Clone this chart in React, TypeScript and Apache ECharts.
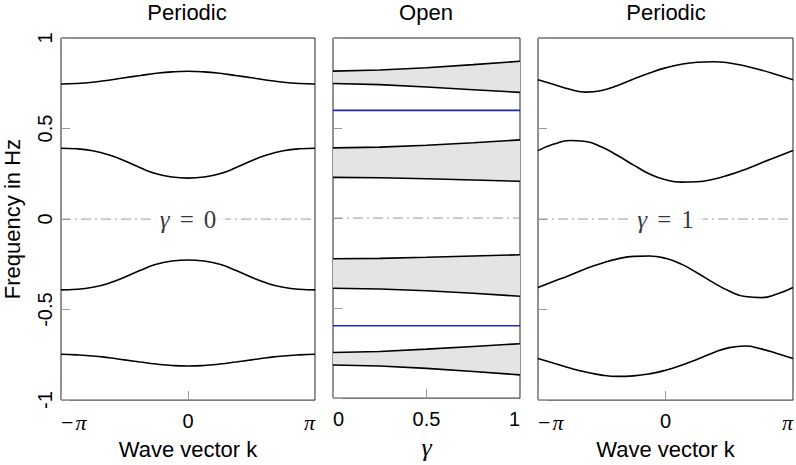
import React, { useEffect, useRef } from "react";
import * as echarts from "echarts";

// wave vector samples, in units of pi
const K = [-1, -0.875, -0.75, -0.625, -0.5, -0.375, -0.25, -0.125, 0, 0.125, 0.25, 0.375, 0.5, 0.625, 0.75, 0.875, 1];

// Periodic, gamma = 0
const p0Band1 = [0.746, 0.749, 0.756, 0.767, 0.78, 0.793, 0.805, 0.813, 0.816, 0.813, 0.805, 0.793, 0.78, 0.767, 0.756, 0.749, 0.746];
const p0Band2 = [0.391, 0.388, 0.377, 0.355, 0.322, 0.283, 0.25, 0.232, 0.226, 0.232, 0.25, 0.283, 0.322, 0.355, 0.377, 0.388, 0.391];
const p0Band3 = [-0.391, -0.388, -0.377, -0.355, -0.322, -0.283, -0.25, -0.232, -0.226, -0.232, -0.25, -0.283, -0.322, -0.355, -0.377, -0.388, -0.391];
const p0Band4 = [-0.747, -0.75, -0.756, -0.766, -0.778, -0.79, -0.801, -0.809, -0.812, -0.809, -0.801, -0.79, -0.778, -0.766, -0.756, -0.75, -0.747];

// Periodic, gamma = 1
const p1Band1 = [0.77, 0.743, 0.717, 0.701, 0.71, 0.738, 0.774, 0.807, 0.835, 0.855, 0.866, 0.869, 0.862, 0.845, 0.823, 0.797, 0.77];
const p1Band2 = [0.378, 0.414, 0.434, 0.428, 0.398, 0.351, 0.298, 0.249, 0.217, 0.204, 0.206, 0.22, 0.244, 0.274, 0.31, 0.344, 0.378];
const p1Band3 = [-0.378, -0.344, -0.31, -0.274, -0.244, -0.22, -0.206, -0.204, -0.217, -0.249, -0.298, -0.351, -0.398, -0.428, -0.434, -0.414, -0.378];
const p1Band4 = [-0.77, -0.797, -0.823, -0.845, -0.862, -0.869, -0.866, -0.855, -0.835, -0.807, -0.774, -0.738, -0.71, -0.701, -0.717, -0.743, -0.77];

// Open chain, versus gamma
const GAMMA = [0, 0.25, 0.5, 0.75, 1];
const oB1Upper = [0.816, 0.822, 0.835, 0.852, 0.871];
const oB1Lower = [0.747, 0.741, 0.728, 0.713, 0.698];
const oB2Upper = [0.39, 0.394, 0.404, 0.418, 0.434];
const oB2Lower = [0.226, 0.224, 0.218, 0.211, 0.204];
const oB3Upper = [-0.226, -0.224, -0.218, -0.211, -0.204];
const oB3Lower = [-0.39, -0.394, -0.404, -0.418, -0.434];
const oB4Upper = [-0.747, -0.741, -0.728, -0.713, -0.698];
const oB4Lower = [-0.816, -0.822, -0.835, -0.852, -0.871];
const edgeStates = [0.598, -0.598];

const Y_TICKS = [-1, -0.5, 0, 0.5, 1];

const SANS = "Liberation Sans";
const SERIF = "Liberation Serif";
const LINE_W = 1.6;
const FILL = "#e4e4e4";
const GRAY = "#9a9a9a";

function kLabel(v: number) {
  if (v < -0.5) return "{m|−}{p|π}";
  if (v > 0.5) return "{p|π}";
  return "0";
}

export default function App() {
  const ref = useRef<HTMLDivElement>(null);
  useEffect(() => {
    if (!ref.current) return;
    const chart = echarts.init(ref.current, null, { renderer: "svg" });

    const grids = [
      { left: 59, top: 38, width: 256, height: 372 },
      { left: 333, top: 38, width: 187, height: 372 },
      { left: 538, top: 38, width: 256, height: 372 },
    ].map((g) => ({ ...g, show: true, borderColor: "#222", borderWidth: 1, backgroundColor: "transparent" }));

    const tickStyle = { show: true, inside: true, length: 9, lineStyle: { color: GRAY, width: 1 } };
    const labelRich = {
      p: { fontFamily: SERIF, fontStyle: "italic", fontSize: 22, color: "#000" },
      m: { fontFamily: SERIF, fontSize: 22, color: "#000", padding: [0, 2, 0, 0] },
    };

    const kAxis = (gridIndex: number) => ({
      type: "value",
      gridIndex,
      min: -1,
      max: 1,
      interval: 1,
      axisLine: { show: false, onZero: false },
      axisTick: tickStyle,
      splitLine: { show: false },
      axisLabel: {
        fontFamily: SANS,
        fontSize: 20,
        color: "#000",
        margin: 11,
        alignMinLabel: "left",
        alignMaxLabel: "right",
        formatter: kLabel,
        rich: labelRich,
      },
      name: "Wave vector k",
      nameLocation: "middle",
      nameGap: 34,
      nameTextStyle: { fontFamily: SANS, fontSize: 22, color: "#000" },
    });

    const xAxis = [
      kAxis(0),
      {
        type: "value",
        gridIndex: 1,
        min: 0,
        max: 1,
        interval: 0.5,
        axisLine: { show: false, onZero: false },
        axisTick: tickStyle,
        splitLine: { show: false },
        axisLabel: {
          fontFamily: SANS,
          fontSize: 20,
          color: "#000",
          margin: 11,
          alignMinLabel: "left",
          alignMaxLabel: "right",
        },
        name: "{g|γ}",
        nameLocation: "middle",
        nameGap: 26,
        nameTextStyle: {
          rich: { g: { fontFamily: SERIF, fontStyle: "italic", fontSize: 26, color: "#000" } },
        },
      },
      kAxis(2),
    ];

    const yAxis = [0, 1, 2].map((i) => ({
      type: "value",
      gridIndex: i,
      min: Y_TICKS[0],
      max: Y_TICKS[Y_TICKS.length - 1],
      interval: 0.5,
      axisLine: { show: false, onZero: false },
      axisTick: tickStyle,
      splitLine: { show: false },
      axisLabel: {
        show: i === 0,
        rotate: 90,
        fontFamily: SANS,
        fontSize: 20,
        color: "#000",
        margin: 6,
      },
      name: i === 0 ? "Frequency in Hz" : "",
      nameLocation: "middle",
      nameGap: 38,
      nameTextStyle: { fontFamily: SANS, fontSize: 22, color: "#000" },
    }));

    const curve = (idx: number, xs: number[], ys: number[], smooth: number | boolean = 0.5) => ({
      type: "line",
      xAxisIndex: idx,
      yAxisIndex: idx,
      data: xs.map((x, i) => [x, ys[i]]),
      smooth,
      showSymbol: false,
      symbol: "none",
      lineStyle: { color: "#000", width: LINE_W },
      z: 3,
      silent: true,
    });

    const zeroLine = (idx: number, xs: number[]) => ({
      type: "line",
      xAxisIndex: idx,
      yAxisIndex: idx,
      data: [
        [xs[0], 0],
        [xs[xs.length - 1], 0],
      ],
      symbol: "none",
      lineStyle: { color: GRAY, width: 1, type: [10, 4, 2, 4] },
      z: 1,
      silent: true,
    });

    const gammaLabel = (idx: number, value: string) => ({
      type: "scatter",
      xAxisIndex: idx,
      yAxisIndex: idx,
      data: [[0, 0]],
      symbolSize: 0,
      z: 4,
      silent: true,
      label: {
        show: true,
        position: "inside",
        formatter: `{g|γ}{e|=}{t|${value}}`,
        backgroundColor: "#fff",
        padding: [2, 9, 2, 9],
        rich: {
          g: { fontFamily: SERIF, fontStyle: "italic", fontSize: 25, color: "#000" },
          e: { fontFamily: SERIF, fontSize: 25, color: "#000", padding: [0, 10, 0, 10] },
          t: { fontFamily: SERIF, fontSize: 25, color: "#000" },
        },
      },
    });

    const bandFill = (lower: number[], upper: number[]) => ({
      type: "custom",
      coordinateSystem: "cartesian2d",
      xAxisIndex: 1,
      yAxisIndex: 1,
      data: [[GAMMA[0], upper[0]]],
      silent: true,
      z: 2,
      renderItem: (_params: any, api: any) => {
        const top = GAMMA.map((g, i) => api.coord([g, upper[i]]));
        const bottom = GAMMA.map((g, i) => api.coord([g, lower[i]])).reverse();
        return {
          type: "polygon",
          shape: { points: [...top, ...bottom] },
          style: { fill: FILL, stroke: "none" },
        };
      },
    });

    const band = (lower: number[], upper: number[]) => [
      bandFill(lower, upper),
      curve(1, GAMMA, upper, false),
      curve(1, GAMMA, lower, false),
    ];

    const edgeLine = (v: number) => ({
      type: "line",
      xAxisIndex: 1,
      yAxisIndex: 1,
      data: [
        [GAMMA[0], v],
        [GAMMA[GAMMA.length - 1], v],
      ],
      symbol: "none",
      lineStyle: { color: "#2323c4", width: 1.6 },
      z: 3,
      silent: true,
    });

    const series: any[] = [
      zeroLine(0, K),
      curve(0, K, p0Band1),
      curve(0, K, p0Band2),
      curve(0, K, p0Band3),
      curve(0, K, p0Band4),
      gammaLabel(0, "0"),
      zeroLine(1, GAMMA),
      ...band(oB1Lower, oB1Upper),
      ...band(oB2Lower, oB2Upper),
      ...band(oB3Lower, oB3Upper),
      ...band(oB4Lower, oB4Upper),
      ...edgeStates.map(edgeLine),
      zeroLine(2, K),
      curve(2, K, p1Band1),
      curve(2, K, p1Band2),
      curve(2, K, p1Band3),
      curve(2, K, p1Band4),
      gammaLabel(2, "1"),
    ];

    const titleStyle = { fontFamily: SANS, fontSize: 22, fontWeight: "normal", color: "#000" };
    chart.setOption({
      animation: false,
      backgroundColor: "#fff",
      title: [
        { text: "Periodic", left: 187, top: 1, padding: 0, textAlign: "center", textStyle: titleStyle },
        { text: "Open", left: 426, top: 1, padding: 0, textAlign: "center", textStyle: titleStyle },
        { text: "Periodic", left: 666, top: 1, padding: 0, textAlign: "center", textStyle: titleStyle },
      ],
      grid: grids,
      xAxis,
      yAxis,
      series,
    });
    return () => chart.dispose();
  }, []);
  return (
    <div
      ref={ref}
      style={{ position: "fixed", left: 0, top: 0, width: 796, height: 465 }}
    />
  );
}
